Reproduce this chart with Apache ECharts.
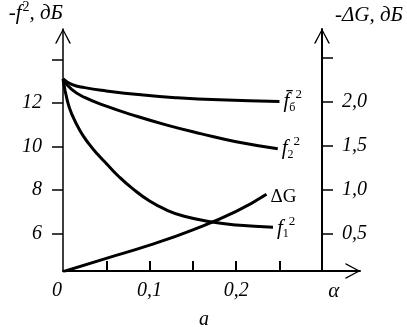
<!DOCTYPE html>
<html>
<head>
<meta charset="utf-8">
<script src="https://cdn.jsdelivr.net/npm/echarts@6/dist/echarts.min.js"></script>
<style>
  html, body { margin: 0; padding: 0; background: #fff; }
  #chart { width: 407px; height: 327px; }
</style>
</head>
<body>
<div id="chart"></div>
<script>
// values
var fbAlpha = [0, 0.01, 0.025, 0.05, 0.09, 0.13, 0.18, 0.25];
var fbVal   = [13.1, 12.85, 12.7, 12.55, 12.37, 12.24, 12.14, 12.07];

var f2Alpha = [0, 0.01, 0.025, 0.05, 0.08, 0.12, 0.16, 0.2, 0.248];
var f2Val   = [13.1, 12.62, 12.25, 11.85, 11.45, 10.98, 10.58, 10.22, 9.9];

var f1Alpha = [0, 0.005, 0.01, 0.02, 0.03, 0.04, 0.05, 0.065, 0.08, 0.1, 0.12, 0.14, 0.17, 0.2, 0.2425];
var f1Val   = [13.1, 12.1, 11.5, 10.7, 10.12, 9.64, 9.22, 8.6, 8.08, 7.5, 7.08, 6.8, 6.55, 6.4, 6.3];

var dgAlpha = [0, 0.05, 0.1, 0.15, 0.2, 0.235];
var dgVal   = [0.068, 0.22, 0.37, 0.545, 0.755, 0.95];

var xTicks = [0.05, 0.1, 0.15, 0.2, 0.25];
var xLabels = [0, 0.1, 0.2, 0.3];
var leftTicks = [6, 8, 10, 12, 14];
var leftLabels = [6, 8, 10, 12];
var rightTicks = [0.5, 1, 1.5, 2, 2.5];
var rightLabels = [0.5, 1, 1.5, 2];

var serif = '"Liberation Serif", "DejaVu Serif", serif';

function pairs(xs, ys) {
    var out = [];
    for (var i = 0; i < xs.length; i++) out.push([xs[i], ys[i]]);
    return out;
}

var arrow = 'path://M8,0 L16,15 L14.4,15 L8,2.6 L1.6,15 L0,15 Z';

var curveRich = {
    f: { fontSize: 21, fontStyle: 'italic', fontFamily: serif, color: '#000' },
    s: { fontSize: 13, fontFamily: serif, color: '#000', padding: [0, 0, 14, 0] },
    b: { fontSize: 12, fontFamily: serif, color: '#000', padding: [12, 0, 0, 0] },
    g: { fontSize: 19, fontFamily: serif, color: '#000' }
};

var nameRich = {
    n: { fontFamily: serif, fontStyle: 'italic', fontSize: 21, color: '#000' },
    m: { fontFamily: serif, fontStyle: 'italic', fontSize: 21, color: '#000', padding: [0, 0, 0, 13] },
    p: { fontFamily: serif, fontSize: 14, color: '#000', padding: [0, 0, 12, 1] }
};

function curve(name, data, yIdx, label, dy) {
    return {
        name: name,
        type: 'line',
        yAxisIndex: yIdx,
        data: data,
        smooth: 0.5,
        showSymbol: false,
        lineStyle: { color: '#000', width: 3 },
        endLabel: {
            show: true,
            formatter: function () { return label; },
            distance: 4,
            offset: [0, dy],
            rich: curveRich
        }
    };
}

var chart = echarts.init(document.getElementById('chart'));
var option = {
    animation: false,
    title: {
        text: 'a',
        left: 194,
        top: 305,
        textStyle: { fontFamily: serif, fontStyle: 'italic', fontWeight: 'normal', fontSize: 20, color: '#000' }
    },
    grid: { left: 63, right: 47, top: 22, bottom: 56 },
    xAxis: {
        type: 'value',
        min: 0,
        max: 0.343,
        axisLine: {
            lineStyle: { color: '#000', width: 2 },
            symbol: ['none', arrow],
            symbolSize: [16, 15],
            symbolOffset: [0, -7]
        },
        axisTick: { show: true, inside: true, length: 10, customValues: xTicks, lineStyle: { color: '#000', width: 2 } },
        axisLabel: {
            customValues: xLabels,
            margin: 10,
            color: '#000',
            fontFamily: serif,
            fontStyle: 'italic',
            fontSize: 20,
            formatter: function (v) {
                if (v === 0) return '{z|0}';
                if (v > 0.29) return '{a|α}';
                return v.toFixed(1).replace('.', ',');
            },
            rich: {
                z: { fontFamily: serif, fontStyle: 'italic', fontSize: 20, color: '#000', padding: [0, 12, 0, 0] },
                a: { fontFamily: serif, fontStyle: 'italic', fontSize: 21, color: '#000', padding: [0, 0, 0, 22] }
            }
        },
        splitLine: { show: false }
    },
    yAxis: [{
        type: 'value',
        min: 4.29,
        max: 15.39,
        name: '{n|-f}{p|2}{n|, дБ}',
        nameLocation: 'end',
        nameGap: 3,
        nameTextStyle: { align: 'right', verticalAlign: 'bottom', rich: nameRich },
        axisLine: {
            show: true,
            lineStyle: { color: '#000', width: 1.5 },
            symbol: ['none', arrow],
            symbolSize: [16, 15],
            symbolOffset: [0, -7]
        },
        axisTick: { show: true, length: 11, customValues: leftTicks, lineStyle: { color: '#000', width: 1.5 } },
        axisLabel: {
            customValues: leftLabels,
            margin: 21,
            color: '#000',
            fontFamily: serif,
            fontStyle: 'italic',
            fontSize: 20
        },
        splitLine: { show: false }
    }, {
        type: 'value',
        position: 'right',
        offset: -38,
        min: 0.076,
        max: 2.83,
        name: '{m|-ΔG, дБ}',
        nameLocation: 'end',
        nameGap: 3,
        nameTextStyle: { align: 'left', verticalAlign: 'bottom', rich: nameRich },
        axisLine: {
            show: true,
            lineStyle: { color: '#000', width: 2 },
            symbol: ['none', arrow],
            symbolSize: [16, 15],
            symbolOffset: [0, -7]
        },
        axisTick: { show: true, length: 11, customValues: rightTicks, lineStyle: { color: '#000', width: 1.5 } },
        axisLabel: {
            customValues: rightLabels,
            margin: 20,
            color: '#000',
            fontFamily: serif,
            fontStyle: 'italic',
            fontSize: 20,
            formatter: function (v) { return v.toFixed(1).replace('.', ','); }
        },
        splitLine: { show: false }
    }],
    series: [
        curve('fb', pairs(fbAlpha, fbVal), 0, '{f|f\u0304}{b|б}{s|2}', 0),
        curve('f2', pairs(f2Alpha, f2Val), 0, '{f|f}{b|2}{s|2}', 0),
        curve('f1', pairs(f1Alpha, f1Val), 0, '{f|f}{b|1}{s|2}', 1),
        curve('dG', pairs(dgAlpha, dgVal), 1, '{g|ΔG}', 3)
    ]
};
chart.setOption(option);
</script>
</body>
</html>
